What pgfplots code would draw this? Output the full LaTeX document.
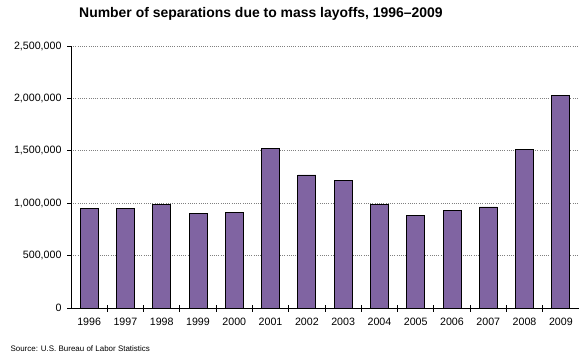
\documentclass[border=0pt]{standalone}
\usepackage{pgfplots}
\pgfplotsset{compat=1.18}
\usepackage{fontspec}
\setmainfont{Liberation Sans}
\definecolor{barpurple}{HTML}{8064A2}
\begin{document}
\begin{tikzpicture}
\path[use as bounding box] (-71bp,-52bp) rectangle (509bp,308bp);
\begin{axis}[
  at={(0,0)}, anchor=south west,
  scale only axis,
  width=508bp, height=262bp,
  xmin=-0.5, xmax=13.5,
  ymin=0, ymax=2500000,
  axis x line*=bottom,
  axis y line*=left,
  axis line style={black, line width=0.8pt, -},
  xtick={0,...,13},
  xticklabels={1996,1997,1998,1999,2000,2001,2002,2003,2004,2005,2006,2007,2008,2009},
  major x tick style={draw=none},
  minor xtick={0.5,1.5,...,12.5},
  minor x tick style={black, line width=0.8pt},
  minor tick length=7bp,
  every minor tick/.append style={yshift=3.5bp},
  scaled y ticks=false,
  ytick={0,500000,1000000,1500000,2000000,2500000},
  yticklabels={0,{500,000},{1,000,000},{1,500,000},{2,000,000},{2,500,000}},
  major y tick style={black, line width=0.8pt},
  major tick length=4bp,
  y tick label style={xshift=-2bp},
  x tick label style={yshift=-3bp},
  tick align=outside,
  ymajorgrids,
  major grid style={gray, line width=0.8pt, dash pattern=on 1bp off 1.2bp},
  tick label style={font=\fontsize{10.7}{12}\selectfont, text=black},
  /pgf/number format/assume math mode=true,
  ybar, bar width=18bp,
  clip=false,
]
\addplot[fill=barpurple, draw=black, line width=0.8pt] coordinates {
(0,946000) (1,946000) (2,990000) (3,899000) (4,914000) (5,1524000) (6,1270000)
(7,1216000) (8,992000) (9,884000) (10,934000) (11,964000) (12,1516000) (13,2026000)
};
\end{axis}
\node[font=\bfseries\fontsize{14}{16}\selectfont] at (190bp,294bp) {Number of separations due to mass layoffs, 1996–2009};
\node[anchor=west, font=\fontsize{8}{9}\selectfont] at (-64bp,-41bp) {Source: U.S. Bureau of Labor Statistics};
\end{tikzpicture}
\end{document}
